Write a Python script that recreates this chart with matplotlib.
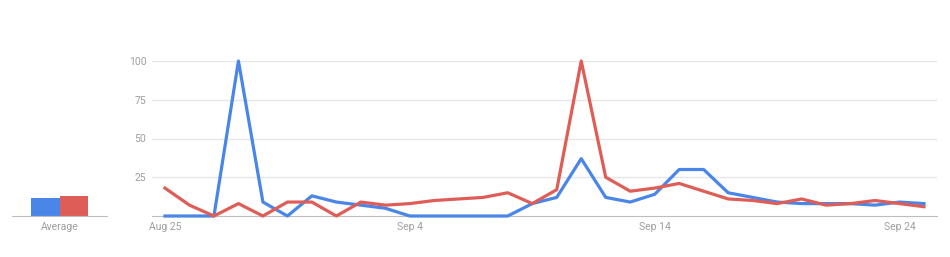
import numpy as np
import matplotlib
matplotlib.use('Agg')
from matplotlib import pyplot as plt

plt.rcParams['font.family'] = ['Roboto', 'DejaVu Sans']

# daily interest, Aug 25 .. Sep 25
days = np.arange(32)
blue = [0, 0, 0, 100, 9, 0, 13, 9, 7, 5, 0, 0, 0, 0, 0, 8,
        12, 37, 12, 9, 14, 30, 30, 15, 12, 9, 8, 8, 8, 7, 9, 8]
red = [18, 7, 0, 8, 0, 9, 9, 0, 9, 7, 8, 10, 11, 12, 15, 8,
       17, 100, 25, 16, 18, 21, 16, 11, 10, 8, 11, 7, 8, 10, 8, 6]
xtick_pos = [0, 10, 20, 30]
xtick_labels = ['Aug 25', 'Sep 4', 'Sep 14', 'Sep 24']
yticks = [25, 50, 75, 100]

blue_c = '#4a86e8'
red_c = '#de5e57'
grey = '#9e9e9e'

fig = plt.figure(figsize=(9.5, 2.57), dpi=100)

# main line chart
ax = fig.add_axes([152/950, 41/257, 785/950, 155/257])
ax.plot(days, blue, color=blue_c, lw=2.3, clip_on=False, zorder=3)
ax.plot(days, red, color=red_c, lw=2.3, clip_on=False, zorder=3)
ax.set_xlim(-0.53, 31.53)
ax.set_ylim(0, 100)
ax.set_yticks(yticks)
ax.set_yticklabels([str(v) for v in yticks])
ax.set_xticks(xtick_pos)
ax.set_xticklabels(xtick_labels)
ax.grid(axis='y', color='#e6e6e6', lw=1)
ax.set_axisbelow(True)
for s in ['top', 'right', 'left']:
    ax.spines[s].set_visible(False)
ax.spines['bottom'].set_color('#bdbdbd')
ax.tick_params(length=0, colors=grey, labelsize=7.5)
ax.tick_params(axis='y', pad=4)
ax.tick_params(axis='x', pad=4)

# average bars
ax2 = fig.add_axes([12/950, 41/257, 95/950, 155/257])
ax2.bar([0, 1], [np.mean(blue), np.mean(red)], width=1, color=[blue_c, red_c])
ax2.set_xlim(-1.14, 2.14)
ax2.set_ylim(0, 100)
ax2.set_yticks([])
ax2.set_xticks([0.5])
ax2.set_xticklabels(['Average'])
for s in ['top', 'right', 'left']:
    ax2.spines[s].set_visible(False)
ax2.spines['bottom'].set_color('#bdbdbd')
ax2.tick_params(length=0, colors=grey, labelsize=7.5, pad=4)

fig.savefig('out.png', dpi=100, facecolor='white')
